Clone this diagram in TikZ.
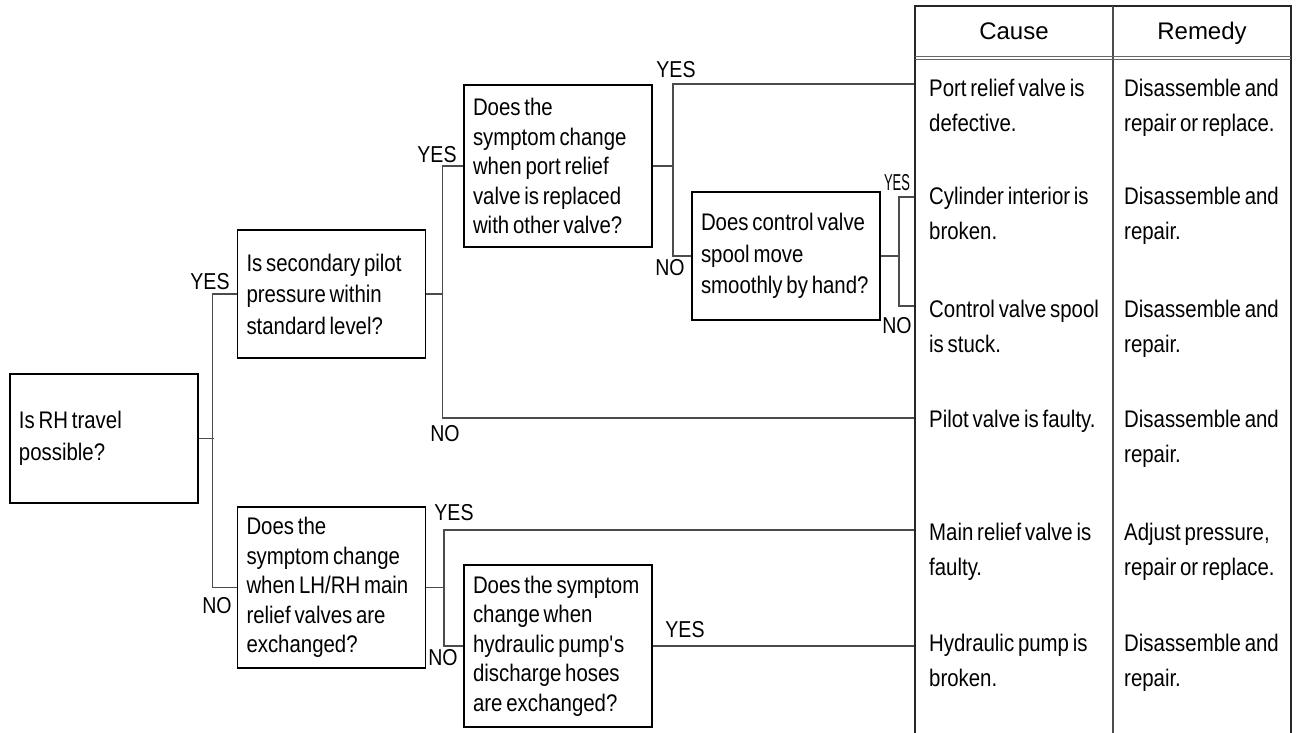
\documentclass[tikz,border=0pt]{standalone}
\usepackage{fontspec}
\setmainfont{Liberation Sans}[FakeStretch=0.85]
\newfontfamily\headfont{Liberation Sans}
\hyphenpenalty=10000
\exhyphenpenalty=10000
\newcommand\tightsp{\fontdimen2\font=3.8pt\fontdimen3\font=0pt\fontdimen4\font=0pt}

\begin{document}
\begin{tikzpicture}[x=1pt, y=-1pt,
    qbox/.style={draw=black, line width=1.6pt, rectangle, inner xsep=9pt, inner ysep=0pt,
        text width=170pt, align=flush left, minimum height=#1, font=\fontsize{24}{29.5}\selectfont\tightsp},
    loose/.style={font=\fontsize{24}{31.5}\selectfont\tightsp},
    lbl/.style={inner sep=0pt, font=\fontsize{23}{24}\selectfont},
    cell/.style={anchor=base west, inner sep=0pt, text width=180pt, align=flush left,
        font=\fontsize{24}{35}\selectfont\tightsp},
    head/.style={anchor=base, inner sep=0pt, font=\headfont\fontsize{24}{26}\selectfont},
    link/.style={draw=black!70, line width=1.3pt},
    tab/.style={draw=black!85, line width=1.6pt}]

    \useasboundingbox (0,0) rectangle (1298,733);

    \node[qbox=129pt, loose] (rh) at (104,438.5) {Is RH travel\\possible?};
    \node[qbox=128pt, loose] (pilot) at (331.5,294) {Is secondary pilot\\pressure within\\standard level?};
    \node[qbox=162pt] (port) at (558,166) {Does the\\symptom change\\when port relief\\valve is replaced\\with other valve?};
    \node[qbox=128pt, loose] (spool) at (786,256) {Does control valve\\spool move\\smoothly by hand?};
    \node[qbox=161pt] (main) at (331.5,587.5) {Does the\\symptom change\\when LH/RH main\\relief valves are\\exchanged?};
    \node[qbox=162pt] (pump) at (558,646) {Does the symptom\\change when\\hydraulic pump\textquotesingle s\\discharge hoses\\are exchanged?};

    \coordinate (r1) at (915,84);
    \coordinate (r2) at (915,197);
    \coordinate (r3) at (915,306);
    \coordinate (r4) at (915,418);
    \coordinate (r5) at (915,530);
    \coordinate (r6) at (915,646);

    \draw[link] (rh.east) -- ++(15,0);
    \draw[link] (pilot.west) -- ++(-24,0) |- (main.west);
    \draw[link] (pilot.east) -- ++(17,0);
    \draw[link] (port.west) -- ++(-21,0) |- (r4);
    \draw[link] (port.east) -- ++(21,0);
    \draw[link] (r1) -- ++(-242,0) |- (spool.west);
    \draw[link] (spool.east) -- ++(19,0);
    \draw[link] (r2) -- ++(-16,0) |- (r3);
    \draw[link] (main.east) -- ++(19,0);
    \draw[link] (r5) -- ++(-471,0) |- (pump.west);
    \draw[link] (pump.east) -- (r6);

    \node[lbl] (y1) at (210,282) {YES};
    \node[lbl] (n1) at (217,606) {NO};
    \node[lbl] (y2) at (437,155) {YES};
    \node[lbl] (n2) at (445,434) {NO};
    \node[lbl] (y3) at (676,70) {YES};
    \node[lbl] (n3) at (670,268) {NO};
    \node[lbl] (y4) at (897,183) {\scalebox{0.66}[1]{YES}};
    \node[lbl] (n4) at (897,326) {NO};
    \node[lbl] (y5) at (454,513) {YES};
    \node[lbl] (n5) at (443,658) {NO};
    \node[lbl] (y6) at (685,630) {YES};

    \draw[tab] (915,733) -- (915,6) -- (1291,6) -- (1291,733);
    \draw[link] (1113,6) -- (1113,733);
    \draw[draw=black!60, line width=0.8pt] (915,56) -- (1291,56) (915,59.5) -- (1291,59.5);

    \node[head] (cause) at (1014,40) {Cause};
    \node[head] (remedy) at (1202,40) {Remedy};

    \node[cell] (c1) at (929,97) {Port relief valve is\\defective.};
    \node[cell] (c2) at (929,204) {Cylinder interior is\\broken.};
    \node[cell] (c3) at (929,317) {Control valve spool\\is stuck.};
    \node[cell] (c4) at (929,427) {Pilot valve is faulty.};
    \node[cell] (c5) at (929,540) {Main relief valve is\\faulty.};
    \node[cell] (c6) at (929,651) {Hydraulic pump is\\broken.};

    \node[cell, text width=165pt] (m1) at (1124,97) {Disassemble and\\repair or replace.};
    \node[cell, text width=165pt] (m2) at (1124,204) {Disassemble and\\repair.};
    \node[cell, text width=165pt] (m3) at (1124,317) {Disassemble and\\repair.};
    \node[cell, text width=165pt] (m4) at (1124,427) {Disassemble and\\repair.};
    \node[cell, text width=165pt] (m5) at (1124,540) {Adjust pressure,\\repair or replace.};
    \node[cell, text width=165pt] (m6) at (1124,651) {Disassemble and\\repair.};

\end{tikzpicture}
\end{document}
